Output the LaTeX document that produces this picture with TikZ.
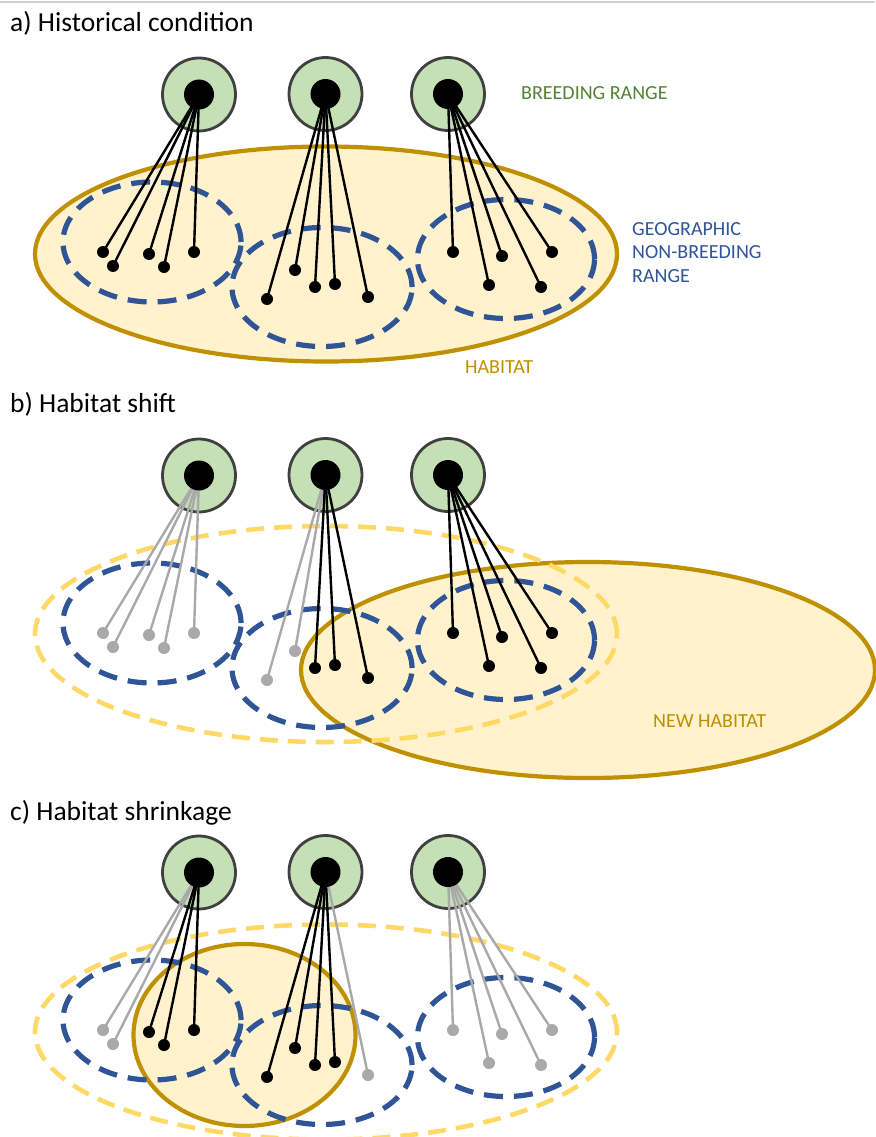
\documentclass[tikz,border=0pt]{standalone}
\usepackage{fontspec}
\setmainfont{Carlito}
\pgfdeclarelayer{back}
\pgfdeclarelayer{mid}
\pgfdeclarelayer{links}
\pgfsetlayers{back,mid,links,main}
\definecolor{brfill}{HTML}{C5E0B4}
\definecolor{brdraw}{HTML}{404040}
\definecolor{gold}{HTML}{BF9000}
\definecolor{habfill}{HTML}{FFF2CC}
\definecolor{nbblue}{HTML}{2F5597}
\definecolor{oldyel}{HTML}{FFD966}
\definecolor{brlabel}{HTML}{548235}
\definecolor{lostgray}{HTML}{A9A9A9}
\tikzset{
  breedring/.style={circle,draw=brdraw,line width=2.8pt,fill=brfill,minimum size=73pt,inner sep=0pt},
  breedcore/.style={circle,fill=black,minimum size=30pt,inner sep=0pt},
  dotnode/.style={circle,minimum size=12pt,inner sep=0pt},
  link/.style={line width=2.4pt},
  habitat/.style={draw=gold,fill=habfill,line width=4.2pt},
  nbrange/.style={draw=nbblue,line width=5.2pt,dash pattern=on 19pt off 11pt},
  oldhab/.style={draw=oldyel,line width=4.6pt,dash pattern=on 18pt off 10pt},
  titletext/.style={anchor=base west,inner sep=0pt,font=\fontsize{27.5}{32}\selectfont},
  lbl/.style={anchor=base west,inner sep=0pt,font=\fontsize{20}{23.5}\selectfont,align=left}
}
% #1 prefix, #2 y offset, #3 list of dots  x/y/group/colour
\newcommand{\birdpanel}[3]{%
  \begin{pgfonlayer}{mid}
    \node[breedring] (#1-r1) at (199,94.5+#2) {};
    \node[breedring] (#1-r2) at (325.5,94+#2) {};
    \node[breedring] (#1-r3) at (448,94+#2) {};
  \end{pgfonlayer}
  \node[breedcore] (#1-b1) at (#1-r1.center) {};
  \node[breedcore] (#1-b2) at (#1-r2.center) {};
  \node[breedcore] (#1-b3) at (#1-r3.center) {};
  \foreach \x/\y/\g/\c [count=\i] in {#3} {
    \node[dotnode,fill=\c] (#1-d\i) at (\x,\y+#2) {};
    \begin{pgfonlayer}{links}
      \draw[link,\c] (#1-b\g.center) -- (#1-d\i.center);
    \end{pgfonlayer}
  }%
}
\newcommand{\nbranges}[1]{%
  \draw[nbrange] (152,242+#1) ellipse [x radius=89pt,y radius=60pt];
  \draw[nbrange] (322,287+#1) ellipse [x radius=90pt,y radius=59.5pt];
  \draw[nbrange] (506,259+#1) ellipse [x radius=88.5pt,y radius=59.5pt];
}
\begin{document}
\begin{tikzpicture}[x=1pt,y=-1pt]
\useasboundingbox (0,0) rectangle (875,1137);
\clip (0,0) rectangle (875,1137);
\draw[black!18,line width=1.5pt] (0,2) -- (875,2);

% ---------------- a) ----------------
\node[titletext] (ta) at (10,32) {a) Historical condition};
\begin{pgfonlayer}{back}
  \draw[habitat] (326,254) ellipse [x radius=291pt,y radius=107.5pt];
  \nbranges{0}
\end{pgfonlayer}
\birdpanel{a}{0}{103/252/1/black,113/266/1/black,149/254/1/black,164/267/1/black,194/252/1/black,
  267/299/2/black,295/270/2/black,315/287/2/black,335/284/2/black,368/297/2/black,
  453/252/3/black,489/285/3/black,502/256/3/black,541/287/3/black,552/252/3/black}
\node[lbl,text=brlabel] (la1) at (521,100) {BREEDING RANGE};
\node[lbl,text=nbblue,anchor=north west] (la2) at (632,222) {GEOGRAPHIC\\NON-BREEDING\\RANGE};
\node[lbl,text=gold] (la3) at (465,373) {HABITAT};

% ---------------- b) ----------------
\node[titletext] (tb) at (10,412.5) {b) Habitat shift};
\begin{pgfonlayer}{back}
  \draw[habitat] (588,670) ellipse [x radius=287pt,y radius=108pt];
  \draw[oldhab] (326,634) ellipse [x radius=291pt,y radius=108pt];
  \nbranges{381}
\end{pgfonlayer}
\birdpanel{b}{381}{103/252/1/lostgray,113/266/1/lostgray,149/254/1/lostgray,164/267/1/lostgray,194/252/1/lostgray,
  267/299/2/lostgray,295/270/2/lostgray,315/287/2/black,335/284/2/black,368/297/2/black,
  453/252/3/black,489/285/3/black,502/256/3/black,541/287/3/black,552/252/3/black}
\node[lbl,text=gold] (lb1) at (653,727.5) {NEW HABITAT};

% ---------------- c) ----------------
\node[titletext] (tc) at (10,820) {c) Habitat shrinkage};
\begin{pgfonlayer}{back}
  \draw[oldhab] (326,1032) ellipse [x radius=291pt,y radius=107.5pt];
  \draw[habitat] (244.5,1035) ellipse [x radius=111pt,y radius=91pt];
  \nbranges{778}
\end{pgfonlayer}
\birdpanel{c}{778}{103/252/1/lostgray,113/266/1/lostgray,149/254/1/black,164/267/1/black,194/252/1/black,
  267/299/2/black,295/270/2/black,315/287/2/black,335/284/2/black,368/297/2/lostgray,
  453/252/3/lostgray,489/285/3/lostgray,502/256/3/lostgray,541/287/3/lostgray,552/252/3/lostgray}
\end{tikzpicture}
\end{document}
